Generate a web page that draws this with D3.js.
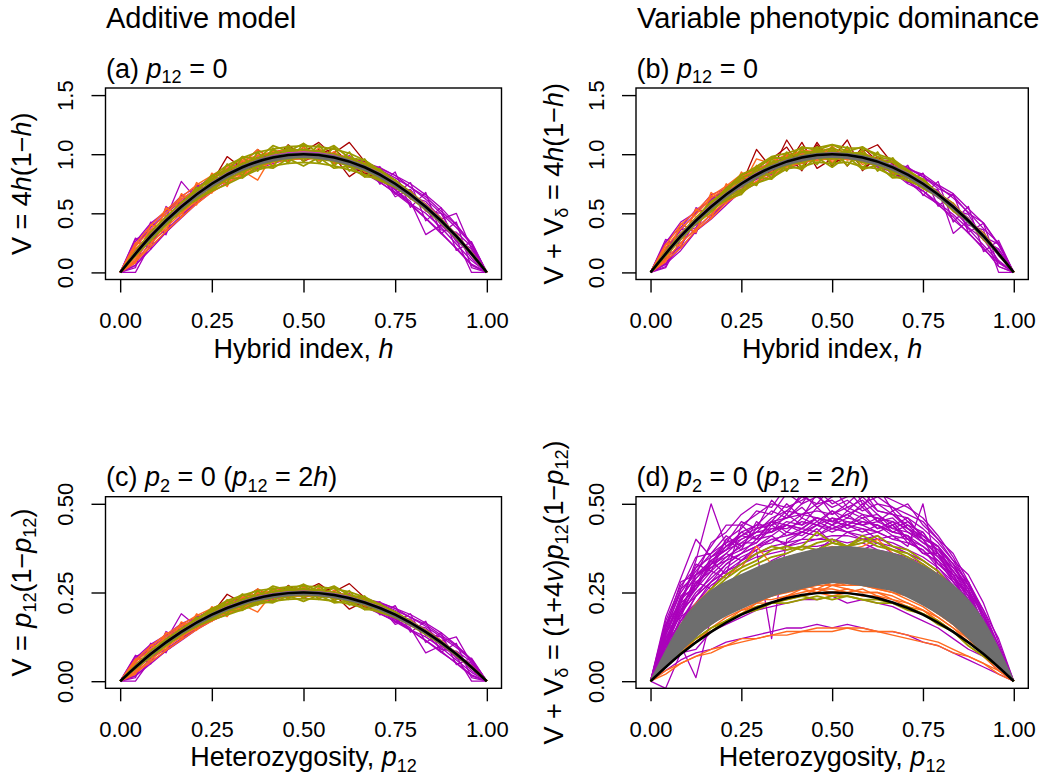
<!DOCTYPE html>
<html>
<head>
<meta charset="utf-8">
<script src="https://cdn.jsdelivr.net/npm/d3@7"></script>
<style>
body { margin:0; background:#fff }
text { font-family:"Liberation Sans", Arial, Helvetica, sans-serif; fill:#000 }
</style>
</head>
<body>
<svg id="fig" width="1048" height="781"></svg>
<script>
// x positions of the simulated points (hybrid index h, or p12)
var simGrid = [0, .0417, .0833, .125, .1667, .2083, .25, .2917, .3333, .375, .4167, .4583, .5,
               .5417, .5833, .625, .6667, .7083, .75, .7917, .8333, .875, .9167, .9583, 1]
// x positions for the smooth expected curves
var smoothGrid = [0, .0833, .1667, .25, .3333, .4167, .5, .5833, .6667, .75, .8333, .9167, 1]

// black expected curves
var hCurve = [0, .306, .556, .750, .889, .972, 1.0, .972, .889, .750, .556, .306, 0]
var pCurve = [0, .0764, .139, .1875, .222, .243, .25, .243, .222, .1875, .139, .0764, 0]

// grey bands of expected values
var hBandHi = [0, .315, .565, .760, .900, .985, 1.010, .985, .900, .760, .565, .315, 0]
var hBandLo = [0, .290, .535, .725, .865, .945, .975, .945, .865, .725, .535, .290, 0]
var cBandHi = [0, .079, .141, .190, .225, .246, .2525, .246, .225, .190, .141, .079, 0]
var cBandLo = [0, .0725, .134, .181, .216, .236, .244, .236, .216, .181, .134, .0725, 0]
var dBandHi = [0, .160, .255, .300, .337, .362, .378, .375, .360, .325, .270, .170, 0]
var dBandLo = [0, .085, .160, .205, .240, .262, .278, .270, .255, .215, .160, .080, 0]

// (a) additive model, h
var aPurple = [
  [0, .10, .30, .46, .77, .62, .74, .83, .88, .95, .97, .99, 1.00, .99, .97, .92, .88, .80, .70, .60, .32, .40, .30, .12, 0],
  [0, 0, .24, .42, .50, .66, .72, .80, .90, .92, .98, 1.00, .99, .98, .96, .95, .86, .84, .64, .70, .52, .45, .50, .20, 0],
  [0, .28, .34, .40, .56, .62, .78, .82, .86, .94, .96, 1.01, .98, .97, .99, .90, .90, .78, .76, .62, .58, .40, .28, 0, 0],
  [0, .20, .26, .48, .54, .70, .74, .84, .89, .93, .98, .98, 1.01, .99, .95, .94, .87, .84, .73, .67, .54, .36, .34, .22, 0],
  [0, .14, .36, .42, .60, .64, .76, .80, .90, .96, .97, 1.00, 1.00, .98, .97, .93, .91, .83, .78, .64, .60, .46, .26, .18, 0],
  [0, .22, .38, .50, .60, .72, .80, .88, .93, .97, 1.01, 1.02, .99, 1.00, .95, .90, .84, .78, .70, .58, .50, .38, .24, .10, 0],
  [0, .08, .26, .36, .48, .60, .70, .78, .85, .90, .95, .97, .98, 1.01, 1.00, .97, .93, .88, .82, .72, .62, .50, .38, .24, 0],
  [0, .24, .40, .52, .62, .70, .82, .86, .94, .95, .99, 1.01, 1.03, .98, .99, .96, .94, .87, .80, .72, .64, .52, .40, .25, 0],
  [0, .06, .22, .34, .46, .58, .68, .76, .82, .88, .92, .96, .96, .97, .94, .90, .84, .76, .68, .58, .46, .34, .20, .06, 0],
  [0, .18, .28, .48, .52, .68, .72, .86, .86, .95, .94, 1.00, .98, 1.00, .94, .95, .86, .86, .70, .70, .52, .50, .28, .20, 0],
  [0, .29, .196, .558, .466, .74, .69, .876, .849, .978, .942, 1.023, .97, 1.023, .932, .988, .829, .896, .66, .76, .436, .548, .186, .26, 0],
  [0, .04, .426, .318, .656, .58, .81, .776, .929, .908, 1.002, .963, 1.03, .963, 1.012, .888, .949, .746, .85, .55, .676, .328, .426, .04, 0],
  [0, .26, .416, .518, .646, .72, .80, .866, .919, .968, .992, 1.013, 1.02, 1.013, .992, .968, .929, .886, .82, .75, .656, .548, .406, .24, 0],
  [0, .06, .196, .338, .476, .59, .70, .786, .859, .908, .952, .973, .98, .973, .952, .908, .849, .766, .67, .57, .456, .328, .206, .07, 0]
]
var aRed = [
  [0, .16, .31, .44, .55, .66, .76, .98, .88, .94, .98, 1.06, 1.02, 1.10, .98, .81, .90, .84, .76, .66, .55, .44, .31, .16, 0],
  [0, .15, .30, .43, .56, .67, .74, .84, .86, .90, .99, .94, 1.06, .96, 1.01, 1.10, .94, .86, .74, .67, .56, .43, .30, .16, 0],
  [0, .16, .31, .44, .55, .65, .76, .80, .92, 1.04, .94, 1.08, .97, 1.04, .92, .97, .86, .84, .72, .66, .55, .44, .31, .16, 0],
  [0, .16, .31, .44, .56, .66, .74, .86, .90, .90, 1.02, 1.04, .94, 1.00, 1.05, .92, .84, .80, .76, .66, .55, .44, .30, .16, 0]
]
var aOrange = [
  [0, .18, .34, .40, .58, .64, .80, .78, .92, 1.04, .95, .98, 1.02, .97, .98, .92, .90, .82, .75, .66, .55, .44, .31, .16, 0],
  [0, .12, .28, .48, .52, .70, .72, .86, .86, .78, 1.00, .96, 1.04, 1.00, .95, .96, .88, .83, .76, .66, .56, .44, .30, .16, 0],
  [0, .20, .32, .45, .50, .62, .79, .82, .94, .90, .94, 1.03, .97, .99, 1.00, .93, .87, .84, .74, .65, .56, .43, .31, .16, 0],
  [0, .22, .36, .50, .62, .70, .80, .88, .92, .99, 1.01, 1.04, 1.03, 1.01, .98, .94, .88, .82, .75, .66, .55, .44, .30, .16, 0],
  [0, .10, .24, .38, .50, .60, .70, .78, .84, .90, .94, .96, .97, .97, .95, .92, .88, .82, .74, .66, .55, .43, .31, .16, 0],
  [0, .16, .34, .42, .60, .64, .78, .80, .92, .91, 1.00, .97, 1.02, .98, .99, .93, .90, .83, .76, .65, .56, .44, .30, .16, 0],
  [0, .25, .236, .548, .466, .76, .67, .916, .799, 1.008, .902, 1.053, .94, 1.053, .922, .978, .849, .866, .72, .69, .526, .458, .286, .17, 0],
  [0, .08, .406, .348, .666, .57, .84, .726, .969, .858, 1.032, .933, 1.06, .943, 1.022, .898, .929, .796, .78, .63, .576, .418, .326, .15, 0],
  [0, .24, .396, .528, .636, .74, .82, .896, .949, .988, 1.022, 1.033, 1.04, 1.023, 1.002, .968, .919, .846, .77, .68, .576, .458, .316, .17, 0],
  [0, .09, .216, .348, .466, .58, .68, .756, .829, .888, .932, .953, .96, .963, .942, .908, .859, .806, .73, .64, .536, .418, .296, .15, 0]
]
var aOlive = [
  [0, .16, .30, .44, .56, .66, .78, .80, .92, .90, 1.04, .96, 1.03, .98, 1.00, .94, .90, .82, .76, .66, .55, .44, .30, .16, 0],
  [0, .15, .31, .43, .57, .65, .74, .86, .86, .96, .95, 1.05, .99, 1.02, .96, .96, .87, .85, .74, .67, .56, .43, .31, .16, 0],
  [0, .17, .30, .44, .55, .67, .76, .82, .90, .93, 1.00, .98, 1.01, .96, .98, .91, .91, .81, .77, .65, .55, .44, .30, .16, 0],
  [0, .18, .34, .47, .59, .70, .79, .86, .92, .97, 1.01, 1.03, 1.04, 1.02, 1.00, .96, .92, .86, .78, .68, .57, .45, .32, .17, 0],
  [0, .14, .27, .40, .52, .62, .71, .79, .85, .90, .94, .96, .97, .96, .94, .90, .86, .79, .72, .63, .53, .42, .29, .15, 0],
  [0, .17, .29, .46, .53, .69, .73, .85, .87, .97, .94, 1.03, .98, 1.03, .95, .97, .87, .85, .73, .68, .54, .45, .29, .17, 0],
  [0, .15, .33, .42, .58, .64, .78, .81, .92, .92, 1.00, .97, 1.03, .97, 1.00, .92, .91, .81, .77, .64, .57, .43, .32, .15, 0],
  [0, .17, .29, .45, .55, .72, .69, .916, .819, 1.018, .892, 1.073, .94, 1.083, .902, 1.018, .809, .876, .72, .67, .55, .44, .30, .16, 0],
  [0, .15, .32, .43, .57, .61, .82, .756, .979, .858, 1.052, .923, 1.09, .923, 1.062, .858, .959, .776, .78, .65, .56, .43, .31, .16, 0],
  [0, .17, .32, .45, .58, .69, .82, .866, .979, .958, 1.072, 1.023, 1.09, 1.013, 1.072, .968, .949, .846, .78, .67, .57, .44, .31, .16, 0],
  [0, .15, .29, .42, .53, .62, .69, .796, .799, .898, .882, .963, .90, .973, .882, .898, .809, .806, .72, .65, .54, .43, .30, .16, 0],
  [0, .17, .32, .46, .58, .70, .81, .906, .969, 1.018, 1.042, 1.063, 1.07, 1.063, 1.042, 1.008, .949, .866, .78, .67, .57, .45, .31, .16, 0],
  [0, .15, .29, .42, .53, .62, .69, .746, .809, .868, .902, .923, .93, .923, .902, .868, .829, .776, .72, .65, .54, .43, .30, .15, 0]
]
var aPink = [
  [0, .17, .32, .45, .57, .67, .76, .84, .90, .95, .99, 1.01, 1.02, 1.01, .99, .95, .90, .84, .76, .67, .57, .45, .32, .17, 0]
]

// (b) variable phenotypic dominance, h
var bPurple = [
  [0, .04, .28, .42, .58, .62, .77, .80, .88, .93, .98, .97, 1.01, .99, .95, .95, .86, .84, .72, .70, .33, .44, .32, .14, 0],
  [0, .24, .30, .46, .52, .68, .72, .85, .87, .96, .95, 1.02, .98, 1.00, .97, .91, .91, .80, .76, .63, .57, .46, .27, .20, 0],
  [0, .18, .36, .40, .55, .65, .74, .81, .92, .92, .99, .99, 1.00, .97, .98, .94, .88, .82, .74, .68, .52, .40, .36, 0, 0],
  [0, .12, .22, .44, .60, .64, .78, .83, .87, .95, .96, 1.00, .99, 1.01, .96, .93, .90, .85, .73, .64, .58, .44, .30, .24, 0],
  [0, .20, .32, .38, .56, .70, .73, .82, .90, .94, .97, .98, 1.02, .98, .98, .96, .87, .81, .77, .66, .55, .38, .28, .10, 0],
  [0, .20, .36, .50, .62, .70, .80, .87, .92, .98, 1.00, 1.02, 1.01, .99, .96, .91, .85, .77, .69, .59, .49, .37, .23, .09, 0],
  [0, .07, .25, .37, .49, .59, .69, .79, .84, .91, .94, .98, .99, 1.00, 1.01, .96, .92, .89, .81, .73, .63, .51, .37, .25, 0],
  [0, .26, .38, .53, .61, .72, .80, .88, .92, .97, .98, 1.02, 1.02, .99, 1.00, .95, .93, .88, .81, .71, .65, .50, .42, .24, 0],
  [0, .08, .21, .35, .45, .57, .69, .75, .83, .87, .93, .95, .97, .96, .95, .89, .85, .75, .69, .57, .47, .33, .21, .05, 0],
  [0, .16, .30, .46, .54, .66, .74, .84, .88, .94, .95, .99, .99, .99, .95, .94, .87, .85, .71, .69, .53, .49, .29, .19, 0],
  [0, .28, .206, .548, .476, .73, .70, .866, .859, .968, .952, 1.013, .98, 1.013, .942, .978, .819, .906, .65, .77, .426, .558, .176, .27, 0],
  [0, .05, .416, .328, .646, .59, .80, .786, .919, .918, .992, .973, 1.02, .973, 1.002, .898, .939, .756, .84, .56, .666, .338, .416, .05, 0],
  [0, .25, .426, .508, .656, .71, .81, .856, .929, .958, 1.002, 1.003, 1.03, 1.003, 1.002, .958, .939, .876, .83, .74, .666, .538, .416, .23, 0],
  [0, .07, .186, .348, .466, .60, .69, .796, .849, .918, .942, .983, .97, .983, .942, .918, .839, .776, .66, .58, .446, .338, .196, .08, 0]
]
var bRed = [
  [0, .16, .31, .43, .56, .66, .75, .84, .86, 1.12, .92, .99, 1.05, .90, 1.06, .94, .90, .84, .75, .66, .56, .44, .30, .16, 0],
  [0, .15, .30, .44, .55, .67, .74, 1.04, .88, .90, 1.10, .88, .96, 1.12, .86, .98, .88, .82, .76, .65, .56, .43, .31, .16, 0],
  [0, .16, .31, .44, .56, .65, .76, .82, .96, 1.06, .88, 1.10, .92, .98, 1.02, 1.08, .92, .86, .74, .67, .55, .44, .30, .16, 0],
  [0, .16, .30, .44, .56, .66, .76, .88, .84, 1.00, .86, 1.08, .90, 1.04, .88, .96, .84, .80, .76, .66, .55, .44, .30, .16, 0]
]
var bOrange = [
  [0, .18, .33, .42, .58, .68, .78, .88, .86, .96, .95, 1.00, .96, 1.02, .99, .92, .90, .82, .76, .66, .56, .44, .31, .16, 0],
  [0, .13, .29, .47, .52, .63, .72, .96, .92, .90, 1.03, .96, 1.04, .95, .97, .95, .88, .84, .75, .67, .55, .44, .30, .16, 0],
  [0, .19, .31, .44, .54, .66, .77, .80, .91, .94, .98, 1.05, .98, .99, .96, .94, .89, .83, .74, .65, .56, .43, .31, .16, 0],
  [0, .21, .37, .49, .63, .71, .81, .87, .93, 1.00, 1.00, 1.03, 1.02, 1.00, .97, .93, .87, .83, .76, .66, .56, .44, .30, .16, 0],
  [0, .11, .25, .37, .49, .61, .69, .77, .85, .89, .93, .95, .96, .96, .94, .91, .87, .81, .75, .65, .55, .43, .31, .16, 0],
  [0, .17, .33, .43, .59, .65, .77, .81, .91, .92, .99, .96, 1.01, .97, .98, .94, .89, .84, .75, .66, .55, .44, .30, .16, 0],
  [0, .24, .226, .538, .456, .75, .66, .906, .789, .998, .892, 1.043, .93, 1.043, .912, .968, .839, .856, .71, .68, .516, .448, .276, .16, 0],
  [0, .09, .416, .338, .676, .58, .85, .736, .979, .868, 1.042, .943, 1.07, .953, 1.032, .908, .939, .806, .79, .64, .586, .428, .336, .16, 0],
  [0, .23, .406, .518, .646, .73, .83, .886, .959, .978, 1.032, 1.023, 1.05, 1.013, 1.012, .958, .929, .836, .78, .67, .586, .448, .326, .16, 0],
  [0, .10, .206, .358, .456, .59, .67, .766, .819, .898, .922, .963, .95, .973, .932, .918, .849, .816, .72, .65, .526, .428, .286, .16, 0]
]
var bOlive = [
  [0, .16, .31, .43, .56, .67, .73, .86, .90, .95, .98, 1.04, .99, 1.02, .95, .95, .89, .82, .74, .66, .55, .44, .30, .16, 0],
  [0, .15, .30, .45, .55, .65, .77, .81, .93, .92, 1.02, .98, 1.03, .98, 1.00, .92, .88, .84, .76, .65, .56, .43, .31, .16, 0],
  [0, .17, .31, .43, .57, .66, .75, .84, .87, .96, .95, 1.01, .97, 1.00, .98, .96, .86, .83, .73, .67, .55, .44, .30, .16, 0],
  [0, .18, .33, .46, .60, .69, .80, .85, .93, .96, 1.02, 1.02, 1.05, 1.01, 1.01, .95, .93, .85, .79, .67, .58, .44, .33, .16, 0],
  [0, .14, .28, .41, .51, .63, .70, .80, .84, .91, .93, .97, .96, .97, .93, .91, .85, .80, .71, .64, .52, .43, .28, .16, 0],
  [0, .16, .30, .45, .54, .68, .74, .84, .88, .96, .95, 1.02, .99, 1.02, .96, .96, .88, .84, .74, .67, .55, .44, .30, .16, 0],
  [0, .15, .32, .43, .57, .65, .77, .82, .91, .93, .99, .98, 1.02, .98, .99, .93, .90, .82, .76, .65, .56, .43, .31, .15, 0],
  [0, .15, .32, .42, .57, .61, .80, .736, .959, .858, 1.052, .913, 1.06, .903, 1.042, .858, .969, .776, .79, .65, .56, .43, .31, .16, 0],
  [0, .17, .29, .45, .54, .71, .68, .896, .799, 1.018, .892, 1.063, .91, 1.063, .882, 1.018, .819, .866, .72, .67, .55, .44, .30, .16, 0],
  [0, .17, .32, .46, .58, .70, .83, .876, .969, .968, 1.062, 1.033, 1.08, 1.023, 1.062, .978, .949, .846, .78, .67, .57, .45, .31, .16, 0],
  [0, .15, .29, .42, .53, .62, .66, .806, .789, .908, .872, .973, .89, .983, .872, .908, .799, .806, .72, .65, .54, .43, .30, .16, 0],
  [0, .17, .32, .46, .58, .71, .82, .896, .979, 1.008, 1.052, 1.053, 1.08, 1.053, 1.052, .998, .959, .866, .78, .67, .57, .45, .31, .16, 0],
  [0, .15, .29, .42, .53, .61, .68, .756, .799, .878, .892, .933, .92, .933, .892, .878, .819, .776, .72, .65, .54, .43, .30, .15, 0]
]
var bPink = [
  [0, .17, .32, .45, .57, .67, .76, .84, .90, .95, .98, 1.00, 1.01, 1.00, .98, .95, .90, .84, .76, .67, .57, .45, .32, .17, 0]
]

// (c) additive model, p12
var cPurple = [
  [0, .025, .075, .115, .19, .155, .185, .21, .22, .24, .24, .25, .25, .25, .24, .23, .22, .20, .175, .15, .08, .10, .075, .03, 0],
  [0, 0, .06, .105, .125, .165, .18, .20, .225, .23, .245, .25, .248, .245, .24, .238, .215, .21, .16, .175, .13, .112, .125, .05, 0],
  [0, .07, .085, .10, .14, .155, .195, .205, .215, .235, .24, .252, .245, .242, .248, .225, .225, .195, .19, .155, .145, .10, .07, 0, 0],
  [0, .05, .065, .12, .135, .175, .185, .21, .222, .232, .245, .245, .252, .248, .238, .235, .218, .21, .182, .168, .135, .09, .085, .055, 0],
  [0, .035, .09, .105, .15, .16, .19, .20, .225, .24, .242, .25, .25, .245, .242, .232, .228, .208, .195, .16, .15, .115, .065, .045, 0],
  [0, .055, .095, .125, .15, .18, .20, .22, .232, .242, .252, .255, .248, .25, .238, .225, .21, .195, .175, .145, .125, .095, .06, .025, 0],
  [0, .02, .065, .09, .12, .15, .175, .195, .212, .225, .238, .242, .245, .252, .25, .242, .232, .22, .205, .18, .155, .125, .095, .06, 0],
  [0, .06, .10, .13, .155, .175, .205, .215, .235, .238, .248, .252, .258, .245, .248, .24, .235, .218, .20, .18, .16, .13, .10, .062, 0],
  [0, .015, .055, .085, .115, .145, .17, .19, .205, .22, .23, .24, .24, .242, .235, .225, .21, .19, .17, .145, .115, .085, .05, .015, 0],
  [0, .045, .07, .12, .13, .17, .18, .215, .215, .238, .235, .25, .245, .25, .235, .238, .215, .215, .175, .175, .13, .125, .07, .05, 0],
  [0, .073, .049, .14, .117, .185, .173, .219, .212, .245, .236, .256, .243, .256, .233, .247, .207, .224, .165, .19, .109, .137, .047, .065, 0],
  [0, .01, .107, .08, .164, .145, .203, .194, .232, .227, .251, .241, .258, .241, .253, .222, .237, .187, .213, .138, .169, .082, .107, .01, 0],
  [0, .065, .104, .13, .162, .18, .20, .217, .23, .242, .248, .253, .255, .253, .248, .242, .232, .222, .205, .188, .164, .137, .102, .06, 0],
  [0, .015, .049, .085, .119, .148, .175, .197, .215, .227, .238, .243, .245, .243, .238, .227, .212, .192, .168, .143, .114, .082, .052, .018, 0]
]
var cRed = [
  [0, .04, .077, .11, .138, .165, .19, .245, .22, .235, .245, .265, .255, .275, .245, .203, .225, .21, .19, .165, .138, .11, .077, .04, 0],
  [0, .038, .075, .108, .14, .168, .185, .21, .215, .225, .248, .235, .265, .24, .252, .275, .235, .215, .185, .168, .14, .108, .075, .04, 0],
  [0, .04, .077, .11, .138, .162, .19, .20, .23, .26, .235, .27, .242, .26, .23, .242, .215, .21, .18, .165, .138, .11, .077, .04, 0],
  [0, .04, .077, .11, .14, .165, .185, .215, .225, .225, .255, .26, .235, .25, .262, .23, .21, .20, .19, .165, .138, .11, .075, .04, 0]
]
var cOrange = [
  [0, .045, .085, .10, .145, .16, .20, .195, .23, .26, .238, .245, .255, .242, .245, .23, .225, .205, .188, .165, .138, .11, .078, .04, 0],
  [0, .03, .07, .12, .13, .175, .18, .215, .215, .195, .25, .24, .26, .25, .238, .24, .22, .208, .19, .165, .14, .11, .075, .04, 0],
  [0, .05, .08, .112, .125, .155, .198, .205, .235, .225, .235, .258, .242, .248, .25, .232, .218, .21, .185, .162, .14, .108, .078, .04, 0],
  [0, .055, .09, .125, .155, .175, .20, .22, .23, .248, .252, .26, .258, .252, .245, .235, .22, .205, .188, .165, .138, .11, .075, .04, 0],
  [0, .025, .06, .095, .125, .15, .175, .195, .21, .225, .235, .24, .242, .242, .238, .23, .22, .205, .185, .165, .138, .108, .078, .04, 0],
  [0, .04, .085, .105, .15, .16, .195, .20, .23, .228, .25, .242, .255, .245, .248, .232, .225, .208, .19, .162, .14, .11, .075, .04, 0],
  [0, .063, .059, .137, .117, .19, .168, .229, .20, .252, .226, .263, .235, .263, .231, .245, .212, .217, .18, .173, .132, .115, .072, .043, 0],
  [0, .02, .102, .087, .167, .143, .21, .182, .242, .215, .258, .233, .265, .236, .256, .225, .232, .199, .195, .158, .144, .105, .082, .038, 0],
  [0, .06, .099, .132, .159, .185, .205, .224, .237, .247, .256, .258, .26, .256, .251, .242, .23, .212, .193, .17, .144, .115, .079, .043, 0],
  [0, .023, .054, .087, .117, .145, .17, .189, .207, .222, .233, .238, .24, .241, .236, .227, .215, .202, .183, .16, .134, .105, .074, .038, 0]
]
var cOlive = [
  [0, .04, .075, .11, .14, .165, .195, .20, .23, .225, .26, .24, .258, .245, .25, .235, .225, .205, .19, .165, .138, .11, .075, .04, 0],
  [0, .038, .078, .108, .142, .162, .185, .215, .215, .24, .238, .262, .248, .255, .24, .24, .218, .212, .185, .168, .14, .108, .078, .04, 0],
  [0, .042, .075, .11, .138, .168, .19, .205, .225, .232, .25, .245, .252, .24, .245, .228, .228, .202, .192, .162, .138, .11, .075, .04, 0],
  [0, .045, .085, .118, .148, .175, .198, .215, .23, .242, .252, .258, .26, .255, .25, .24, .23, .215, .195, .17, .142, .112, .08, .042, 0],
  [0, .035, .068, .10, .13, .155, .178, .198, .212, .225, .235, .24, .242, .24, .235, .225, .215, .198, .18, .158, .132, .105, .072, .038, 0],
  [0, .042, .072, .115, .132, .172, .182, .212, .218, .242, .235, .258, .245, .258, .238, .242, .218, .212, .182, .17, .135, .112, .072, .042, 0],
  [0, .038, .082, .105, .145, .16, .195, .202, .23, .23, .25, .242, .258, .242, .25, .23, .228, .202, .192, .16, .142, .108, .08, .038, 0],
  [0, .043, .073, .113, .138, .18, .173, .229, .205, .255, .223, .268, .235, .271, .226, .255, .202, .219, .18, .168, .138, .11, .075, .04, 0],
  [0, .038, .08, .108, .143, .153, .205, .189, .245, .215, .263, .231, .273, .231, .266, .215, .24, .194, .195, .163, .14, .108, .078, .04, 0],
  [0, .043, .08, .113, .145, .173, .205, .217, .245, .24, .268, .256, .273, .253, .268, .242, .237, .212, .195, .168, .143, .11, .078, .04, 0],
  [0, .038, .073, .105, .133, .155, .173, .199, .20, .225, .221, .241, .225, .243, .221, .225, .202, .202, .18, .163, .135, .108, .075, .04, 0],
  [0, .043, .08, .115, .145, .175, .203, .227, .242, .255, .261, .266, .268, .266, .261, .252, .237, .217, .195, .168, .143, .113, .078, .04, 0],
  [0, .038, .073, .105, .133, .155, .173, .187, .202, .217, .226, .231, .233, .231, .226, .217, .207, .194, .18, .163, .135, .108, .075, .038, 0]
]
var cPink = [
  [0, .042, .08, .112, .142, .168, .19, .21, .225, .238, .247, .252, .254, .252, .247, .238, .225, .21, .19, .168, .142, .112, .08, .042, 0]
]

// (d) variable phenotypic dominance, p12
var dPurple = [
  [0, .12, .20, .24, .30, .34, .36, .40, .41, .44, .43, .46, .45, .47, .44, .46, .42, .41, .36, .34, .28, .22, .16, .08, 0],
  [0, .10, .22, .34, .50, .38, .40, .42, .46, .48, .52, .50, .55, .49, .51, .47, .44, .46, .40, .35, .30, .24, .14, .06, 0],
  [0, .14, .18, .28, .26, .32, .35, .37, .40, .39, .42, .41, .44, .42, .43, .40, .41, .38, .50, .30, .27, .20, .12, .05, 0],
  [0, .08, .24, .26, .34, .30, .44, .40, .45, .50, .46, .53, .47, .50, .54, .48, .47, .43, .39, .36, .29, .25, .13, .07, 0],
  [0, .15, .28, .30, .32, .36, .34, .38, .41, .38, .40, .43, .39, .42, .40, .41, .38, .36, .34, .31, .25, .18, .13, .04, 0],
  [0, .11, .19, .30, .33, .40, .43, .48, .47, .53, .50, .56, .52, .58, .50, .52, .49, .45, .41, .38, .32, .26, .15, .06, 0],
  [0, .05, .10, .01, .18, .22, .26, .30, .34, .36, .38, .37, .40, .38, .37, .39, .36, .33, .30, .27, .22, .17, .10, .04, 0],
  [0, .03, .06, .08, .09, .11, .12, .13, .14, .15, .15, .16, .15, .16, .15, .14, .14, .13, .11, .10, .08, .06, .04, .02, 0],
  [0, .13, .22, .26, .31, .29, .34, .37, .12, .40, .42, .44, .43, .45, .44, .42, .44, .39, .37, .32, .27, .19, .11, .06, 0],
  [0, .16, .26, .35, .36, .41, .38, .43, .44, .46, .49, .45, .48, .46, .50, .45, .46, .42, .40, .33, .30, .21, .16, .05, 0],
  [0, .10, .17, .22, .27, .30, .33, .35, .36, .37, .38, .38, .39, .38, .39, .37, .36, .35, .33, .30, .26, .20, .14, .06, 0],
  [0, .14, .26, .30, .39, .42, .47, .50, .49, .55, .52, .57, .54, .56, .58, .53, .51, .49, .46, .41, .35, .27, .18, .07, 0],
  [0, .12, .21, .27, .33, .35, .37, .39, .44, .41, .43, .42, .46, .43, .45, .44, .42, .44, .40, .38, .33, .28, .20, .10, 0],
  [0, -.02, .08, .09, .14, .16, .18, .20, .21, .22, .23, .23, .24, .22, .23, .22, .21, .19, .17, .15, .12, .09, .07, .03, 0],
  [0, .18, .29, .40, .35, .37, .42, .40, .45, .44, .47, .46, .44, .48, .46, .47, .43, .45, .41, .37, .31, .24, .17, .09, 0],
  [0, .09, .20, .29, .33, .38, .41, .44, .48, .46, .50, .52, .49, .51, .48, .50, .47, .44, .42, .36, .31, .25, .16, .08, 0],
  [0, .11, .16, .24, .28, .33, .36, .38, .39, .42, .41, .44, .42, .44, .43, .42, .40, .41, .36, .36, .28, .23, .15, .07, 0],
  [0, .13, .23, .32, .35, .39, .45, .43, .51, .47, .53, .49, .52, .54, .49, .55, .48, .50, .44, .40, .36, .28, .19, .08, 0],
  [0, .15, .25, .31, .36, .39, .41, .43, .45, .46, .47, .48, .47, .49, .47, .46, .45, .43, .41, .38, .33, .26, .18, .09, 0],
  [0, .12, .20, .26, .33, .36, .40, .42, .42, .45, .44, .46, .45, .44, .46, .43, .44, .40, .38, .34, .30, .23, .15, .07, 0],
  [0, .10, .19, .25, .29, .33, .36, .38, .40, .41, .42, .41, .43, .42, .41, .42, .40, .39, .37, .33, .29, .22, .15, .07, 0],
  [0, .17, .27, .32, .38, .44, .44, .47, .50, .49, .51, .54, .50, .52, .55, .50, .49, .47, .45, .40, .34, .27, .19, .09, 0],
  [0, .09, .17, .24, .28, .31, .34, .36, .38, .39, .40, .40, .41, .41, .40, .40, .39, .37, .35, .32, .28, .23, .16, .08, 0],
  [0, .13, .24, .29, .34, .37, .39, .42, .43, .43, .45, .44, .46, .45, .44, .45, .43, .42, .39, .37, .33, .25, .19, .10, 0],
  [0, .11, .21, .28, .31, .35, .38, .41, .42, .44, .43, .46, .44, .46, .45, .44, .42, .41, .38, .35, .31, .26, .16, .08, 0],
  [0, .14, .23, .30, .34, .37, .41, .40, .45, .42, .46, .44, .48, .44, .47, .43, .45, .40, .42, .36, .32, .27, .20, .12, 0],
  [0, .16, .22, .33, .31, .40, .37, .45, .42, .47, .44, .49, .45, .47, .49, .45, .48, .43, .40, .38, .30, .28, .17, .08, 0],
  [0, .08, .18, .22, .28, .31, .33, .36, .37, .38, .39, .40, .40, .39, .40, .39, .38, .36, .34, .31, .27, .21, .14, .06, 0],
  [0, .12, .19, .27, .32, .34, .39, .39, .43, .44, .42, .45, .43, .44, .42, .44, .41, .40, .36, .36, .29, .24, .16, .09, 0],
  [0, .10, .23, .27, .35, .38, .42, .44, .44, .48, .47, .50, .51, .48, .52, .48, .47, .46, .43, .39, .34, .30, .22, .11, 0]
]
var dRed = []
var dOrange = [
  [0, .05, .09, .12, .15, .18, .20, .22, .24, .25, .26, .27, .27, .28, .27, .26, .25, .23, .21, .18, .15, .12, .08, .04, 0],
  [0, .04, .08, .11, .14, .17, .19, .21, .22, .23, .24, .25, .24, .25, .24, .24, .22, .21, .19, .17, .14, .11, .08, .04, 0],
  [0, .03, .05, .07, .09, .10, .11, .12, .13, .14, .14, .15, .15, .15, .14, .14, .14, .13, .12, .11, .09, .07, .05, .03, 0],
  [0, .02, .05, .07, .08, .10, .12, .12, .13, .13, .14, .14, .14, .15, .15, .14, .13, .12, .11, .10, .08, .07, .05, .02, 0],
  [0, .08, .16, .22, .26, .30, .32, .38, .33, .35, .36, .37, .38, .37, .38, .40, .36, .34, .33, .30, .26, .20, .13, .06, 0],
  [0, .05, .10, .14, .17, .20, .21, .23, .23, .24, .26, .25, .27, .26, .25, .25, .24, .22, .20, .17, .14, .10, .07, .03, 0],
  [0, .05, .09, .13, .16, .19, .21, .23, .24, .26, .27, .26, .28, .27, .27, .26, .25, .24, .22, .19, .16, .12, .09, .05, 0],
  [0, .04, .08, .12, .14, .17, .20, .21, .22, .24, .25, .26, .25, .26, .25, .25, .23, .22, .20, .18, .15, .11, .08, .04, 0],
  [0, .06, .10, .13, .17, .20, .22, .24, .25, .26, .27, .28, .27, .28, .27, .27, .26, .24, .22, .19, .16, .13, .09, .05, 0],
  [0, .04, .09, .11, .15, .17, .19, .22, .22, .24, .24, .26, .26, .25, .26, .24, .23, .21, .20, .17, .14, .11, .08, .04, 0],
  [0, .06, .11, .15, .18, .21, .23, .25, .26, .27, .28, .28, .29, .28, .29, .28, .27, .25, .23, .20, .17, .13, .09, .05, 0],
  [0, .05, .10, .14, .17, .19, .22, .23, .25, .25, .27, .27, .27, .27, .28, .26, .26, .24, .22, .19, .16, .12, .08, .04, 0]
]
var dOlive = [
  [0, .07, .15, .21, .26, .30, .33, .36, .38, .37, .38, .42, .39, .38, .39, .41, .38, .37, .34, .31, .26, .20, .14, .07, 0],
  [0, .06, .12, .18, .23, .27, .31, .33, .35, .36, .38, .37, .39, .38, .40, .38, .37, .35, .32, .29, .24, .18, .12, .06, 0],
  [0, .05, .09, .12, .15, .17, .19, .21, .22, .23, .24, .23, .24, .24, .23, .23, .22, .21, .19, .17, .14, .11, .08, .04, 0],
  [0, .07, .14, .20, .25, .29, .32, .34, .37, .38, .37, .39, .40, .38, .41, .39, .37, .36, .33, .30, .25, .19, .13, .07, 0],
  [0, .04, .08, .11, .14, .17, .19, .20, .22, .22, .23, .24, .23, .24, .23, .22, .22, .20, .19, .16, .14, .10, .07, .04, 0]
]
var dPink = []

var xTicks = [0, .25, .5, .75, 1]

var col = { purple:'#AA00BB', red:'#A80000', orange:'#FF6A1F', olive:'#9A9A00', pink:'#E02BE0', grey:'#6E6E6E' }

var hLab = [{t:'Hybrid index, '}, {t:'h', it:1}]
var pLab = [{t:'Heterozygosity, '}, {t:'p', it:1}, {t:'12', sub:1}]

var panels = [
  { left:105.5, right:501.5, top:88, bottom:279.5, yDom:[-0.06, 1.56], yTicks:[0, .5, 1, 1.5], yFmt:'.1f',
    purple:aPurple, red:aRed, orange:aOrange, olive:aOlive, pink:aPink, hi:hBandHi, lo:hBandLo, curve:hCurve,
    title:[{t:'(a) '}, {t:'p', it:1}, {t:'12', sub:1}, {t:' = 0'}],
    ylab:[{t:'V = 4'}, {t:'h', it:1}, {t:'(1\u2212'}, {t:'h', it:1}, {t:')'}], ylabX:31, xlab:hLab },
  { left:636, right:1028.3, top:88, bottom:279.5, yDom:[-0.06, 1.56], yTicks:[0, .5, 1, 1.5], yFmt:'.1f',
    purple:bPurple, red:bRed, orange:bOrange, olive:bOlive, pink:bPink, hi:hBandHi, lo:hBandLo, curve:hCurve,
    title:[{t:'(b) '}, {t:'p', it:1}, {t:'12', sub:1}, {t:' = 0'}],
    ylab:[{t:'V + V'}, {t:'\u03b4', sub:1}, {t:' = 4'}, {t:'h', it:1}, {t:'(1\u2212'}, {t:'h', it:1}, {t:')'}], ylabX:562.5, xlab:hLab },
  { left:105.5, right:501.5, top:496.7, bottom:688.3, yDom:[-0.02, 0.52], yTicks:[0, .25, .5], yFmt:'.2f',
    purple:cPurple, red:cRed, orange:cOrange, olive:cOlive, pink:cPink, hi:cBandHi, lo:cBandLo, curve:pCurve,
    title:[{t:'(c) '}, {t:'p', it:1}, {t:'2', sub:1}, {t:' = 0 ('}, {t:'p', it:1}, {t:'12', sub:1}, {t:' = 2'}, {t:'h', it:1}, {t:')'}],
    ylab:[{t:'V = '}, {t:'p', it:1}, {t:'12', sub:1}, {t:'(1\u2212'}, {t:'p', it:1}, {t:'12', sub:1}, {t:')'}], ylabX:31, xlab:pLab },
  { left:636, right:1028.3, top:496.7, bottom:688.3, yDom:[-0.02, 0.52], yTicks:[0, .25, .5], yFmt:'.2f',
    purple:dPurple, red:dRed, orange:dOrange, olive:dOlive, pink:dPink, hi:dBandHi, lo:dBandLo, curve:pCurve,
    title:[{t:'(d) '}, {t:'p', it:1}, {t:'2', sub:1}, {t:' = 0 ('}, {t:'p', it:1}, {t:'12', sub:1}, {t:' = 2'}, {t:'h', it:1}, {t:')'}],
    ylab:[{t:'V + V'}, {t:'\u03b4', sub:1}, {t:' = (1+4'}, {t:'v', it:1}, {t:')'}, {t:'p', it:1}, {t:'12', sub:1},
          {t:'(1\u2212'}, {t:'p', it:1}, {t:'12', sub:1}, {t:')'}], ylabX:562.5, xlab:pLab }
]

var svg = d3.select('#fig')

// plotmath-like text: italic parts and subscripts via tspans
function mathText(sel, parts, size) {
  var shift = 0
  parts.forEach(function(p) {
    var want = p.sub ? size*0.2 : 0
    var ts = sel.append('tspan').text(p.t)
    if (p.it) ts.attr('font-style', 'italic')
    if (p.sub) ts.attr('font-size', size*0.67)
    if (want !== shift) ts.attr('dy', want - shift)
    shift = want
  })
}

function drawPanel(p, i) {
  var x = d3.scaleLinear().domain([-0.04, 1.04]).range([p.left, p.right])
  var y = d3.scaleLinear().domain(p.yDom).range([p.bottom, p.top])
  var g = svg.append('g')

  g.append('clipPath').attr('id', 'clip'+i)
    .append('rect')
      .attr('x', p.left).attr('y', p.top)
      .attr('width', p.right-p.left).attr('height', p.bottom-p.top)

  var box = g.append('g').attr('clip-path', 'url(#clip'+i+')')
  var line = d3.line().x((d, k)=> x(simGrid[k])).y(d=> y(d))

  var groups = [['purple', 1.3], ['red', 1.3], ['orange', 1.4], ['olive', 1.8], ['pink', 1.3]]
  groups.forEach(function(gr) {
    box.selectAll(null).data(p[gr[0]]).enter()
      .append('path')
        .attr('d', line)
        .attr('fill', 'none')
        .attr('stroke', col[gr[0]])
        .attr('stroke-width', gr[1])
        .attr('stroke-linejoin', 'round')
  })

  var band = d3.area()
      .x((d, k)=> x(smoothGrid[k]))
      .y0((d, k)=> y(p.lo[k]))
      .y1(d=> y(d))
      .curve(d3.curveNatural)
  box.append('path').datum(p.hi)
      .attr('d', band)
      .attr('fill', col.grey)
      .attr('stroke', col.grey)
      .attr('stroke-width', 1.5)

  box.append('path').datum(p.curve)
      .attr('d', d3.line().x((d, k)=> x(smoothGrid[k])).y(d=> y(d)).curve(d3.curveNatural))
      .attr('fill', 'none')
      .attr('stroke', '#000')
      .attr('stroke-width', 2.6)

  g.append('rect')
      .attr('x', p.left).attr('y', p.top)
      .attr('width', p.right-p.left).attr('height', p.bottom-p.top)
      .attr('fill', 'none').attr('stroke', '#000').attr('stroke-width', 1.4)

  // x axis
  var xa = g.append('g')
      .attr('transform', 'translate(0,' + p.bottom + ')')
      .call(d3.axisBottom(x).tickValues(xTicks).tickFormat(d3.format('.2f')).tickSize(13).tickPadding(20))
  xa.select('.domain').remove()
  xa.selectAll('line').attr('stroke-width', 1.4)
  xa.selectAll('text').attr('font-size', 22).attr('font-family', null).attr('dy', '0.71em')

  // y axis, labels parallel to the axis
  var ya = g.append('g')
      .attr('transform', 'translate(' + p.left + ',0)')
      .call(d3.axisLeft(y).tickValues(p.yTicks).tickFormat(d3.format(p.yFmt)).tickSize(14))
  ya.select('.domain').remove()
  ya.selectAll('line').attr('stroke-width', 1.4)
  ya.selectAll('text')
      .attr('font-size', 22).attr('font-family', null)
      .attr('x', null).attr('dy', null)
      .attr('text-anchor', 'middle')
      .attr('transform', 'translate(-32.5,0) rotate(-90)')

  // panel title
  var tt = g.append('text')
      .attr('x', p.left + 0.5).attr('y', p.top - 10.5)
      .attr('font-size', 27)
  mathText(tt, p.title, 27)

  // x label
  var xl = g.append('text')
      .attr('x', (p.left+p.right)/2).attr('y', p.bottom + 78)
      .attr('text-anchor', 'middle')
      .attr('font-size', 27)
  mathText(xl, p.xlab, 27)

  // y label
  var cy = (p.top+p.bottom)/2
  var yl = g.append('text')
      .attr('transform', 'translate(' + p.ylabX + ',' + cy + ') rotate(-90)')
      .attr('text-anchor', 'middle')
      .attr('font-size', 27)
  mathText(yl, p.ylab, 27)
}

panels.forEach(drawPanel)

svg.append('text').attr('x', 106).attr('y', 28).attr('font-size', 29).text('Additive model')
svg.append('text').attr('x', 637).attr('y', 28).attr('font-size', 29).text('Variable phenotypic dominance')
</script>
</body>
</html>
